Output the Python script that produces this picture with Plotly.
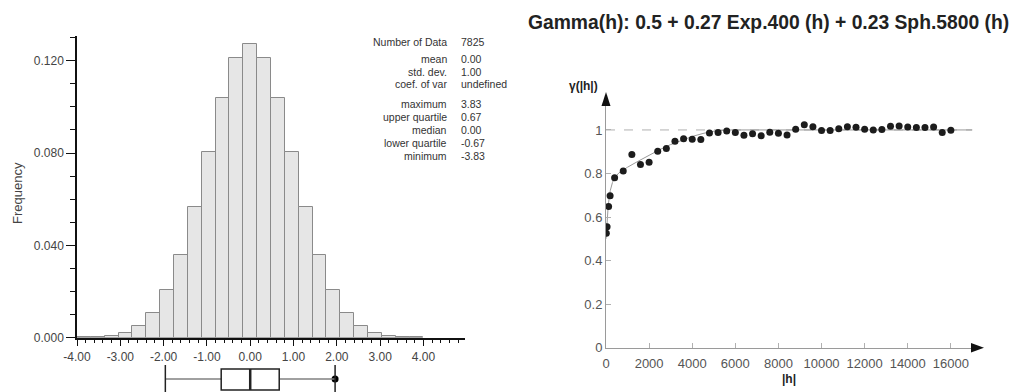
import plotly.graph_objects as go

# ---------------- data ----------------
# Histogram (bin width 0.32, bins starting at -4.00)
bin_centers = [-3.84, -3.52, -3.20, -2.88, -2.56, -2.24, -1.92, -1.60, -1.28, -0.96,
               -0.64, -0.32, 0.00, 0.32, 0.64, 0.96, 1.28, 1.60, 1.92, 2.24,
               2.56, 2.88, 3.20, 3.52, 3.84]
frequencies = [0.0001, 0.0003, 0.0009, 0.0022, 0.0051, 0.0106, 0.0205, 0.0358, 0.0568, 0.0805,
               0.1040, 0.1211, 0.1273, 0.1211, 0.1040, 0.0805, 0.0568, 0.0358, 0.0205, 0.0106,
               0.0051, 0.0022, 0.0009, 0.0003, 0.0001]
bin_width = 0.32

hist_xtick_vals = [-4, -3, -2, -1, 0, 1, 2, 3, 4]
hist_xtick_text = ["-4.00", "-3.00", "-2.00", "-1.00", "0.00", "1.00", "2.00", "3.00", "4.00"]
hist_ytick_vals = [0.0, 0.04, 0.08, 0.12]
hist_ytick_text = ["0.000", "0.040", "0.080", "0.120"]

# Box plot summary
box_lower_whisker = -1.96
box_q1 = -0.67
box_median = 0.00
box_q3 = 0.67
box_upper_whisker = 1.96

# Statistics block
stat_labels = ["Number of Data", "mean", "std. dev.", "coef. of var",
               "maximum", "upper quartile", "median", "lower quartile", "minimum"]
stat_values = ["7825", "0.00", "1.00", "undefined",
               "3.83", "0.67", "0.00", "-0.67", "-3.83"]

# Experimental variogram
lag_h = [15, 50, 120, 190, 400, 800, 1200, 1600, 2000, 2400, 2800, 3200, 3600, 4000,
         4400, 4800, 5200, 5600, 6000, 6400, 6800, 7200, 7600, 8000, 8400, 8800,
         9200, 9600, 10000, 10400, 10800, 11200, 11600, 12000, 12400, 12800, 13200,
         13600, 14000, 14400, 14800, 15200, 15600, 16000]
gamma_exp = [0.526, 0.556, 0.649, 0.698, 0.780, 0.812, 0.887, 0.841, 0.852, 0.902,
             0.915, 0.948, 0.960, 0.957, 0.956, 0.986, 0.988, 0.995, 0.988, 0.976,
             0.983, 0.973, 0.989, 0.985, 0.977, 1.003, 1.024, 1.015, 0.997, 0.997,
             1.006, 1.015, 1.012, 1.003, 1.000, 1.002, 1.017, 1.018, 1.014, 1.011,
             1.011, 1.014, 0.988, 0.999]

# Fitted model curve
model_h = [0, 25, 50, 100, 150, 200, 300, 400, 600, 800, 1000, 1500, 2000, 2500,
           3000, 3500, 4000, 4500, 5000, 5500, 5800, 17000]
model_gamma = [0.500, 0.548, 0.587, 0.648, 0.691, 0.722, 0.759, 0.780, 0.803, 0.817,
               0.829, 0.857, 0.884, 0.910, 0.933, 0.953, 0.970, 0.984, 0.994, 0.999,
               1.000, 1.000]
sill_h = [0, 17000]
sill_gamma = [1.0, 1.0]

vario_xtick_vals = [0, 2000, 4000, 6000, 8000, 10000, 12000, 14000, 16000]
vario_xtick_text = ["0", "2000", "4000", "6000", "8000", "10000", "12000", "14000", "16000"]
vario_ytick_vals = [0, 0.2, 0.4, 0.6, 0.8, 1.0]
vario_ytick_text = ["0", "0.2", "0.4", "0.6", "0.8", "1"]

title_text = "Gamma(h): 0.5 + 0.27 Exp.400 (h) + 0.23 Sph.5800 (h)"

# ---------------- layout helpers ----------------
W, H = 1012, 392
FONT = "Liberation Sans, Arial, Helvetica, sans-serif"


def px(x):
    return x / W


def py(y):
    return 1 - y / H


fig = go.Figure()

# Histogram bars
fig.add_trace(go.Bar(
    x=bin_centers, y=frequencies, width=bin_width,
    marker=dict(color="#e6e6e6", line=dict(color="#8a8a8a", width=1)),
    xaxis="x", yaxis="y", showlegend=False, hoverinfo="x+y"))

# Box-plot whisker end dot
fig.add_trace(go.Scatter(
    x=[box_upper_whisker], y=[13], mode="markers",
    marker=dict(color="black", size=7),
    xaxis="x", yaxis="y3", showlegend=False, hoverinfo="skip"))

# Variogram: sill, model, points
fig.add_trace(go.Scatter(
    x=sill_h, y=sill_gamma, mode="lines",
    line=dict(color="#b0b0b0", width=1, dash="dash"),
    xaxis="x2", yaxis="y2", showlegend=False, hoverinfo="skip"))
fig.add_trace(go.Scatter(
    x=model_h, y=model_gamma, mode="lines",
    line=dict(color="#999999", width=1),
    xaxis="x2", yaxis="y2", showlegend=False, hoverinfo="skip"))
fig.add_trace(go.Scatter(
    x=lag_h, y=gamma_exp, mode="markers",
    marker=dict(color="#1c1c1c", size=7),
    xaxis="x2", yaxis="y2", showlegend=False))

shapes = []
# Box plot (in x data units, y3 is a pixel-like helper axis)
shapes += [
    dict(type="line", xref="x", yref="y3", x0=box_lower_whisker, x1=box_q1, y0=13, y1=13,
         line=dict(color="#808080", width=1.5)),
    dict(type="line", xref="x", yref="y3", x0=box_q3, x1=box_upper_whisker, y0=13, y1=13,
         line=dict(color="#808080", width=1.5)),
    dict(type="rect", xref="x", yref="y3", x0=box_q1, x1=box_q3, y0=2, y1=23,
         line=dict(color="#222222", width=1.5), fillcolor="white"),
    dict(type="line", xref="x", yref="y3", x0=box_median, x1=box_median, y0=2, y1=23,
         line=dict(color="#222222", width=2.5)),
    dict(type="line", xref="x", yref="y3", x0=box_lower_whisker, x1=box_lower_whisker, y0=0, y1=27,
         line=dict(color="#222222", width=1.5)),
    dict(type="line", xref="x", yref="y3", x0=box_upper_whisker, x1=box_upper_whisker, y0=0, y1=27,
         line=dict(color="#222222", width=1.5)),
]
# Axis arrow heads for variogram
shapes += [
    dict(type="path", xref="paper", yref="paper",
         path=f"M {px(606)} {py(92)} L {px(601.5)} {py(106)} L {px(610.5)} {py(106)} Z",
         fillcolor="#111111", line=dict(width=0)),
    dict(type="path", xref="paper", yref="paper",
         path=f"M {px(984)} {py(347.7)} L {px(971)} {py(343)} L {px(971)} {py(352.4)} Z",
         fillcolor="#111111", line=dict(width=0)),
]

annotations = []
annotations.append(dict(text=f"<b>{title_text}</b>", x=px(768), y=py(23), xref="paper", yref="paper",
                        showarrow=False, xanchor="center", yanchor="middle",
                        font=dict(family=FONT, size=19.3, color="#222222")))
annotations.append(dict(text="<b>γ(|h|)</b>", x=px(583), y=py(86), xref="paper", yref="paper",
                        showarrow=False, xanchor="center", yanchor="middle",
                        font=dict(family=FONT, size=12, color="#222222")))
annotations.append(dict(text="<b>|h|</b>", x=px(789), y=py(379), xref="paper", yref="paper",
                        showarrow=False, xanchor="center", yanchor="middle",
                        font=dict(family=FONT, size=12, color="#222222")))
annotations.append(dict(text="Frequency", x=px(17), y=py(193), xref="paper", yref="paper",
                        showarrow=False, xanchor="center", yanchor="middle", textangle=-90,
                        font=dict(family=FONT, size=13, color="#444444")))

stat_rows_y = [41.7, 59.3, 72.0, 84.3, 104.0, 117.0, 130.0, 142.7, 156.0]
for lab, val, yy in zip(stat_labels, stat_values, stat_rows_y):
    annotations.append(dict(text=lab, x=px(449), y=py(yy), xref="paper", yref="paper",
                            showarrow=False, xanchor="right", yanchor="middle",
                            font=dict(family=FONT, size=10.5, color="#333333")))
    annotations.append(dict(text=val, x=px(459), y=py(yy), xref="paper", yref="paper",
                            showarrow=False, xanchor="left", yanchor="middle",
                            font=dict(family=FONT, size=10.5, color="#333333")))

fig.update_layout(
    width=W, height=H,
    margin=dict(l=0, r=0, t=0, b=0, pad=0, autoexpand=False),
    paper_bgcolor="white", plot_bgcolor="white",
    bargap=0,
    shapes=shapes, annotations=annotations,
    font=dict(family=FONT),
    xaxis=dict(domain=[px(77), px(465)], range=[-4, 4.96], anchor="y", automargin=False,
               showline=True, linecolor="#111111", linewidth=1.5,
               ticks="outside", ticklen=7, tickcolor="#111111", tickwidth=1,
               tickvals=hist_xtick_vals, ticktext=hist_xtick_text,
               tickfont=dict(family=FONT, size=12, color="#444444"),
               minor=dict(dtick=0.2, tick0=-4, ticks="outside", ticklen=4, tickcolor="#111111"),
               showgrid=False, zeroline=False, fixedrange=True),
    yaxis=dict(domain=[py(337.7), py(36)], range=[0, 0.1307], anchor="x", automargin=False,
               showline=True, linecolor="#111111", linewidth=1.5,
               ticks="outside", ticklen=9, tickcolor="#111111", tickwidth=1,
               tickvals=hist_ytick_vals, ticktext=hist_ytick_text,
               tickfont=dict(family=FONT, size=12, color="#444444"),
               minor=dict(dtick=0.01, tick0=0, ticks="outside", ticklen=5, tickcolor="#111111"),
               showgrid=False, zeroline=False, fixedrange=True),
    yaxis3=dict(domain=[0, py(360)], range=[0, 32], anchor="x", automargin=False,
                visible=False, fixedrange=True),
    xaxis2=dict(domain=[px(606), px(972.4)], range=[0, 17000], anchor="y2", automargin=False,
                showline=True, linecolor="#9a9a9a", linewidth=1,
                ticks="inside", ticklen=5, tickcolor="#b0b0b0",
                tickvals=vario_xtick_vals, ticktext=vario_xtick_text,
                tickfont=dict(family=FONT, size=13, color="#555555"),
                ticklabelstandoff=4,
                showgrid=False, zeroline=False, fixedrange=True),
    yaxis2=dict(domain=[py(347.7), py(106)], range=[0, 1.11], anchor="x2", automargin=False,
                showline=True, linecolor="#9a9a9a", linewidth=1,
                ticks="inside", ticklen=5, tickcolor="#b0b0b0",
                tickvals=vario_ytick_vals, ticktext=vario_ytick_text,
                tickfont=dict(family=FONT, size=13, color="#555555"),
                showgrid=False, zeroline=False, fixedrange=True),
)

fig.write_html("out.html")
